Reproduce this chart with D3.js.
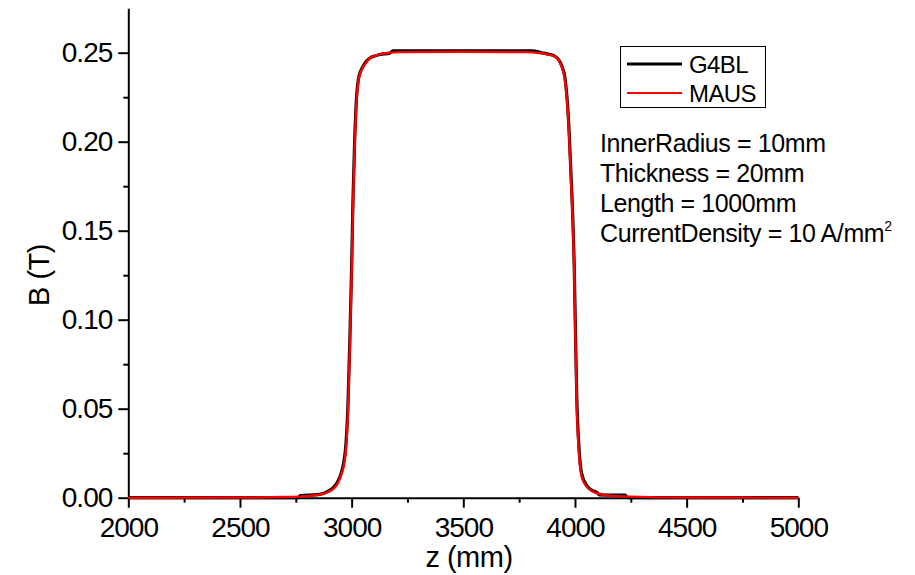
<!DOCTYPE html>
<html>
<head>
<meta charset="utf-8">
<title>B field</title>
<script src="https://cdn.jsdelivr.net/npm/d3@7"></script>
<style>
  body { margin: 0; background: #fff; }
  text { font-family: "Liberation Sans", Arial, sans-serif; fill: #000; }
</style>
</head>
<body>
<script>
// field along axis
const g4blZ = [2000, 2760, 2770, 2850, 2900, 2920, 2940, 2955, 2965, 2975, 2984, 2993, 3000, 3006, 3014, 3020, 3030, 3040, 3052, 3065, 3082, 3100, 3127, 3170, 3185, 3500, 3810, 3850, 3880, 3911, 3930, 3941, 3955, 3966, 3974, 3981, 3990, 3997, 4002, 4008, 4018, 4030, 4052, 4075, 4100, 4110, 4225, 4235, 5000];
const g4blB = [0, 0, 0.0012, 0.0017, 0.004, 0.006, 0.0095, 0.0145, 0.020, 0.031, 0.054, 0.094, 0.130, 0.167, 0.203, 0.221, 0.235, 0.2395, 0.2425, 0.245, 0.247, 0.248, 0.249, 0.2497, 0.2510, 0.2511, 0.2511, 0.2500, 0.2492, 0.2480, 0.2455, 0.2425, 0.236, 0.222, 0.205, 0.185, 0.158, 0.128, 0.094, 0.057, 0.028, 0.0135, 0.007, 0.0042, 0.0028, 0.0016, 0.0014, 0, 0];

const mausZ = [2000, 2500, 2700, 2800, 2850, 2900, 2920, 2940, 2955, 2965, 2975, 2984, 2993, 3000, 3006, 3014, 3020, 3030, 3040, 3052, 3065, 3082, 3100, 3127, 3160, 3220, 3500, 3780, 3840, 3875, 3911, 3930, 3941, 3955, 3966, 3974, 3981, 3990, 3997, 4002, 4008, 4018, 4030, 4052, 4075, 4097, 4170, 4250, 4400, 4700, 5000];
const mausB = [0, 0.0001, 0.0004, 0.0009, 0.0016, 0.0035, 0.0052, 0.0085, 0.0135, 0.018, 0.028, 0.050, 0.090, 0.126, 0.163, 0.200, 0.219, 0.234, 0.239, 0.242, 0.2445, 0.247, 0.248, 0.2492, 0.2498, 0.2503, 0.2505, 0.2503, 0.2498, 0.2491, 0.2478, 0.245, 0.242, 0.2347, 0.220, 0.203, 0.182, 0.155, 0.125, 0.090, 0.053, 0.025, 0.0118, 0.0062, 0.0038, 0.0025, 0.001, 0.0006, 0.0002, 0.0001, 0];

const xTicks = [2000, 2500, 3000, 3500, 4000, 4500, 5000];
const xMinor = [2250, 2750, 3250, 3750, 4250, 4750];
const yTicks = [0, 0.05, 0.10, 0.15, 0.20, 0.25];
const yMinor = [0.025, 0.075, 0.125, 0.175, 0.225];

const seriesNames = ["G4BL", "MAUS"];
const seriesColors = ["#000000", "#ff0000"];
const notes = ["InnerRadius = 10mm", "Thickness = 20mm", "Length = 1000mm", "CurrentDensity = 10 A/mm"];

const W = 915, H = 575;
const svg = d3.select("body").append("svg")
  .attr("width", W)
  .attr("height", H);

const x = d3.scaleLinear().domain([2000, 5000]).range([128.3, 798.3]);
const y = d3.scaleLinear().domain([0, 0.275]).range([497.7, 8.2]);

// axes
svg.append("g")
  .attr("transform", "translate(0," + y(0) + ")")
  .call(d3.axisBottom(x).tickValues(xTicks).tickSize(10).tickSizeOuter(0).tickPadding(9).tickFormat(d3.format("d")));
svg.append("g")
  .attr("transform", "translate(0," + y(0) + ")")
  .call(d3.axisBottom(x).tickValues(xMinor).tickSize(5).tickSizeOuter(0).tickFormat(""))
  .select(".domain").remove();

svg.append("g")
  .attr("transform", "translate(" + x(2000) + ",0)")
  .call(d3.axisLeft(y).tickValues(yTicks).tickSize(10).tickSizeOuter(0).tickPadding(6).tickFormat(d3.format(".2f")));
svg.append("g")
  .attr("transform", "translate(" + x(2000) + ",0)")
  .call(d3.axisLeft(y).tickValues(yMinor).tickSize(5).tickSizeOuter(0).tickFormat(""))
  .select(".domain").remove();

svg.selectAll(".domain, .tick line").attr("stroke", "#000").attr("stroke-width", 2);
svg.selectAll(".tick text")
  .style("font-family", '"Liberation Sans", Arial, sans-serif')
  .style("font-size", "28px")
  .style("letter-spacing", "-1px")
  .attr("fill", "#000");

// axis titles
svg.append("text")
  .attr("transform", "translate(49,275) rotate(-90)")
  .attr("text-anchor", "middle")
  .style("font-size", "29px")
  .style("letter-spacing", "-0.5px")
  .text("B (T)");
svg.append("text")
  .attr("x", 469).attr("y", 567)
  .attr("text-anchor", "middle")
  .style("font-size", "29px")
  .style("letter-spacing", "-0.5px")
  .text("z (mm)");

// curves
const line = d3.line()
  .x(d => x(d[0]))
  .y(d => y(d[1]))
  .curve(d3.curveMonotoneX);

const g4bl = g4blZ.map((z, i) => [z, g4blB[i]]);
const maus = mausZ.map((z, i) => [z, mausB[i]]);

svg.append("path").datum(g4bl)
  .attr("d", line).attr("fill", "none")
  .attr("stroke", seriesColors[0]).attr("stroke-width", 3.2)
  .attr("stroke-linejoin", "round");
svg.append("path").datum(maus)
  .attr("d", line).attr("fill", "none")
  .attr("stroke", seriesColors[1]).attr("stroke-width", 2.4)
  .attr("stroke-linejoin", "round");

// legend
const leg = svg.append("g");
leg.append("rect")
  .attr("x", 620.5).attr("y", 46.5).attr("width", 145).attr("height", 61)
  .attr("fill", "#fff").attr("stroke", "#000").attr("stroke-width", 1);
seriesNames.forEach((name, i) => {
  const ly = 64 + i * 29;
  leg.append("line")
    .attr("x1", 627).attr("x2", 682).attr("y1", ly).attr("y2", ly)
    .attr("stroke", seriesColors[i]).attr("stroke-width", i === 0 ? 3 : 2);
  leg.append("text")
    .attr("x", 689).attr("y", ly + 8.5)
    .style("font-size", "24px")
    .style("letter-spacing", "-0.6px")
    .text(name);
});

// parameter notes
notes.forEach((t, i) => {
  const tx = svg.append("text")
    .attr("x", 600).attr("y", 151.5 + i * 30)
    .style("font-size", "25px")
    .style("letter-spacing", "-0.4px")
    .text(t);
  if (i === notes.length - 1) {
    tx.append("tspan").attr("dy", -11).style("font-size", "14px").text("2");
  }
});
</script>
</body>
</html>
